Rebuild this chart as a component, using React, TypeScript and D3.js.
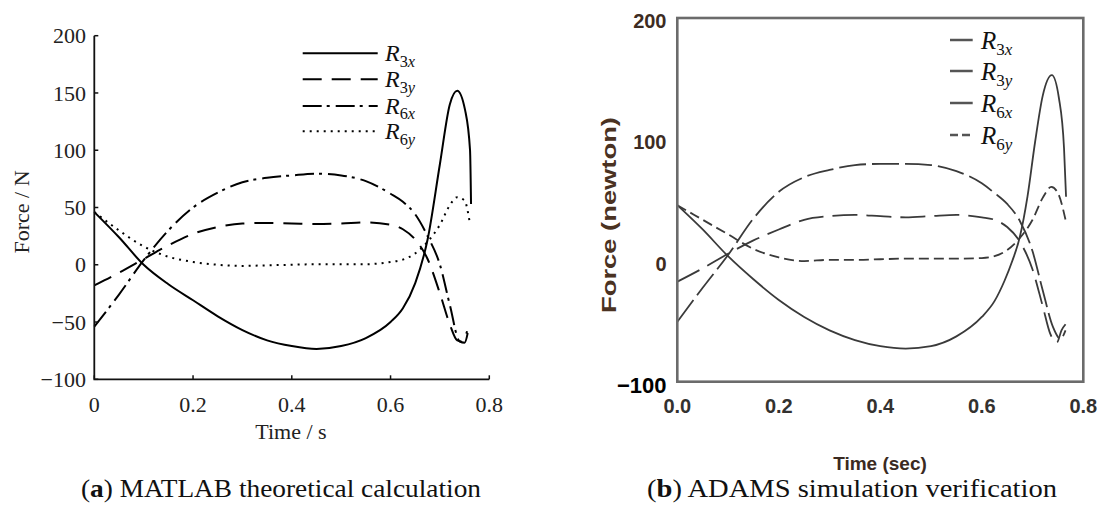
import React from "react";
import * as d3 from "d3";

// ---------- data: (a) MATLAB theoretical calculation ----------
const R3x_a: [number, number][] = [[0,46],[0.05,24],[0.1,0],[0.15,-17],[0.2,-31],[0.25,-45],[0.3,-57],[0.35,-66],[0.4,-71],[0.45,-73.5],[0.5,-71],[0.55,-64],[0.6,-50],[0.625,-38],[0.65,-16],[0.675,22],[0.7,88],[0.72,140],[0.735,152],[0.751,135],[0.761,100],[0.763,53]];
const R3y_a: [number, number][] = [[0,-18],[0.05,-7],[0.1,5],[0.15,17],[0.2,27],[0.25,33],[0.3,36],[0.35,36.5],[0.4,36],[0.45,35.5],[0.5,36],[0.55,37],[0.6,35],[0.625,31],[0.65,22],[0.675,5],[0.7,-25],[0.72,-52],[0.735,-66],[0.745,-67],[0.755,-58]];
const R6x_a: [number, number][] = [[0,-54],[0.05,-26],[0.1,4],[0.15,30],[0.2,50],[0.25,63],[0.3,72],[0.35,76],[0.4,78],[0.45,79.5],[0.5,78],[0.55,73],[0.6,62],[0.625,55],[0.65,44],[0.675,25],[0.7,0],[0.72,-35],[0.74,-67],[0.75,-68],[0.757,-58]];
const R6y_a: [number, number][] = [[0,46],[0.05,30],[0.1,16],[0.15,7],[0.2,2.5],[0.25,0],[0.3,-1],[0.35,-0.5],[0.4,0],[0.45,0.5],[0.5,0.5],[0.55,0.5],[0.6,2.5],[0.625,4.5],[0.65,10],[0.675,20],[0.7,35],[0.72,52],[0.735,59],[0.75,56],[0.76,38]];

// ---------- data: (b) ADAMS simulation verification ----------
const R3x_b: [number, number][] = [[0,48],[0.05,28],[0.1,6],[0.15,-13],[0.2,-30],[0.25,-44],[0.3,-55],[0.35,-63],[0.4,-68],[0.45,-70],[0.5,-68],[0.55,-60],[0.6,-44],[0.625,-31],[0.645,-14],[0.66,2],[0.675,22],[0.69,55],[0.705,100],[0.72,138],[0.738,155],[0.752,136],[0.762,95],[0.766,55]];
const R3y_b: [number, number][] = [[0,-15],[0.05,-4],[0.1,8],[0.15,19],[0.2,28],[0.25,36],[0.3,39],[0.35,40],[0.4,39],[0.45,38],[0.5,39],[0.55,40],[0.6,38],[0.625,36],[0.65,30],[0.675,18],[0.7,-5],[0.72,-35],[0.735,-58],[0.748,-65],[0.757,-55],[0.765,-50]];
const R6x_b: [number, number][] = [[0,-48],[0.05,-20],[0.1,7],[0.15,37],[0.2,59],[0.25,71],[0.3,77],[0.35,81],[0.4,82],[0.45,82],[0.5,81],[0.55,76],[0.6,66],[0.625,58],[0.65,49],[0.675,35],[0.7,10],[0.72,-22],[0.74,-52],[0.755,-62],[0.765,-55]];
const R6y_b: [number, number][] = [[0,48],[0.05,36],[0.1,24],[0.15,12],[0.2,5],[0.25,2],[0.3,3],[0.35,3],[0.4,3.5],[0.45,4],[0.5,4],[0.55,4],[0.6,4.5],[0.625,6],[0.65,11],[0.675,21],[0.7,36],[0.72,54],[0.737,63],[0.75,58],[0.765,36]];

// ---------- ticks & labels ----------
const xTicksA = [0, 0.2, 0.4, 0.6, 0.8];
const xTickLabelsA = ["0", "0.2", "0.4", "0.6", "0.8"];
const yTicksA = [-100, -50, 0, 50, 100, 150, 200];
const xTicksB = [0, 0.2, 0.4, 0.6, 0.8];
const xTickLabelsB = ["0.0", "0.2", "0.4", "0.6", "0.8"];
const yTicksB = [-100, 0, 100, 200];
const seriesNames = [["3", "x"], ["3", "y"], ["6", "x"], ["6", "y"]];

const serif = "'Liberation Serif', 'Times New Roman', serif";
const sans = "'Liberation Sans', Arial, sans-serif";

function SeriesLabel({ x, y, size, sub, sub2 }: { x: number; y: number; size: number; sub: string; sub2: string }) {
  return (
    <text x={x} y={y} fontFamily={serif} fontSize={size} fill="#111">
      <tspan fontStyle="italic">R</tspan>
      <tspan fontSize={size * 0.68} dy={size * 0.22}>{sub}</tspan>
      <tspan fontSize={size * 0.68} fontStyle="italic">{sub2}</tspan>
    </text>
  );
}

export default function App() {
  // left chart scales
  const xA = d3.scaleLinear().domain([0, 0.8]).range([94.3, 489.3]);
  const yA = d3.scaleLinear().domain([-100, 200]).range([379.3, 35.7]);
  // right chart scales
  const xB = d3.scaleLinear().domain([0, 0.8]).range([677.3, 1083.3]);
  const yB = d3.scaleLinear().domain([-100, 200]).range([385, 20.5]);

  const lineA = d3.line<[number, number]>().x(d => xA(d[0])).y(d => yA(d[1])).curve(d3.curveMonotoneX);
  const lineB = d3.line<[number, number]>().x(d => xB(d[0])).y(d => yB(d[1])).curve(d3.curveMonotoneX);

  const fmt = d3.format("");

  const seriesA = [
    { d: R3x_a, dash: "none" },
    { d: R3y_a, dash: "19,10" },
    { d: R6x_a, dash: "19,5,3,6" },
    { d: R6y_a, dash: "2,5" },
  ];
  const seriesB = [
    { d: R3x_b, dash: "none" },
    { d: R3y_b, dash: "25,9" },
    { d: R6x_b, dash: "27,6" },
    { d: R6y_b, dash: "10,5" },
  ];
  const legendRowsA = [53.3, 79.3, 106, 131.3];
  const legendRowsB = [40, 71, 103, 135];

  const x0 = xA(0), y0 = yA(-100);

  return (
    <svg width={1104} height={508} style={{ position: "absolute", left: 0, top: 0, background: "#fff" }}>
      <rect x={0} y={0} width={1104} height={508} fill="#fff" />
      {/* ================= (a) ================= */}
      <g>
        {seriesA.map((s, i) => (
          <path key={i} d={lineA(s.d) || ""} fill="none" stroke="#000" strokeWidth={2} strokeDasharray={s.dash} />
        ))}
        <path d={`M${x0},${yA(200)}V${y0}H${xA(0.8)}`} fill="none" stroke="#111" strokeWidth={1.8} />
        {yTicksA.map(v => (
          <g key={v}>
            <line x1={x0} x2={x0 + 4} y1={yA(v)} y2={yA(v)} stroke="#111" strokeWidth={1.5} />
            <text x={86} y={yA(v)} dy="0.35em" textAnchor="end" fontFamily={serif} fontSize={22} fill="#222">{fmt(v)}</text>
          </g>
        ))}
        {xTicksA.map((v, i) => (
          <g key={v}>
            <line x1={xA(v)} x2={xA(v)} y1={y0} y2={y0 - 4} stroke="#111" strokeWidth={1.5} />
            <text x={xA(v)} y={412} textAnchor="middle" fontFamily={serif} fontSize={22} fill="#222">{xTickLabelsA[i]}</text>
          </g>
        ))}
        <text x={291} y={439} textAnchor="middle" fontFamily={serif} fontSize={22} fill="#222">Time / s</text>
        <text transform="translate(29,212) rotate(-90)" textAnchor="middle" fontFamily={serif} fontSize={22} fill="#222">Force / N</text>
        {seriesA.map((s, i) => (
          <g key={i}>
            <line x1={302.7} x2={377.7} y1={legendRowsA[i]} y2={legendRowsA[i]} stroke="#000" strokeWidth={2} strokeDasharray={s.dash} />
            <SeriesLabel x={385} y={legendRowsA[i] + 8} size={24} sub={seriesNames[i][0]} sub2={seriesNames[i][1]} />
          </g>
        ))}
      </g>

      {/* ================= (b) ================= */}
      <g>
        {seriesB.map((s, i) => (
          <path key={i} d={lineB(s.d) || ""} fill="none" stroke="#3a3a3a" strokeWidth={1.8} strokeDasharray={s.dash} />
        ))}
        <rect x={677.3} y={18} width={406} height={363.7} fill="none" stroke="#6b6b6b" strokeWidth={2.6} />
        {yTicksB.map(v => (
          <text key={v} x={666.5} y={yB(v)} dy="0.36em" textAnchor="end" fontFamily={sans} fontWeight="bold"
            fontSize={v === -100 ? 22 : 20} fill={v === -100 ? "#000" : "#3d2c22"}>{fmt(v)}</text>
        ))}
        {xTicksB.map((v, i) => (
          <text key={v} x={xB(v)} y={412.5} textAnchor="middle" fontFamily={sans} fontWeight="bold" fontSize={20} fill="#33312f">{xTickLabelsB[i]}</text>
        ))}
        <text x={880} y={470} textAnchor="middle" fontFamily={sans} fontWeight="bold" fontSize={19} fill="#3a2a22">Time (sec)</text>
        <text transform="translate(616,215) rotate(-90)" textAnchor="middle" fontFamily={sans} fontWeight="bold" fontSize={20}
          textLength={196} lengthAdjust="spacingAndGlyphs" fill="#4a3222">Force (newton)</text>
        {seriesB.map((s, i) => (
          <g key={i}>
            <line x1={950} x2={972.7} y1={legendRowsB[i]} y2={legendRowsB[i]} stroke="#555" strokeWidth={2.5}
              strokeDasharray={i === 3 ? "8,4" : "none"} />
            <SeriesLabel x={981} y={legendRowsB[i] + 9} size={25} sub={seriesNames[i][0]} sub2={seriesNames[i][1]} />
          </g>
        ))}
      </g>

      {/* captions */}
      <text x={281} y={497} textAnchor="middle" fontFamily={serif} fontSize={25} fill="#111" textLength={400} lengthAdjust="spacingAndGlyphs">
        (<tspan fontWeight="bold">a</tspan>) MATLAB theoretical calculation
      </text>
      <text x={852} y={497} textAnchor="middle" fontFamily={serif} fontSize={25} fill="#111" textLength={410} lengthAdjust="spacingAndGlyphs">
        (<tspan fontWeight="bold">b</tspan>) ADAMS simulation verification
      </text>
    </svg>
  );
}
